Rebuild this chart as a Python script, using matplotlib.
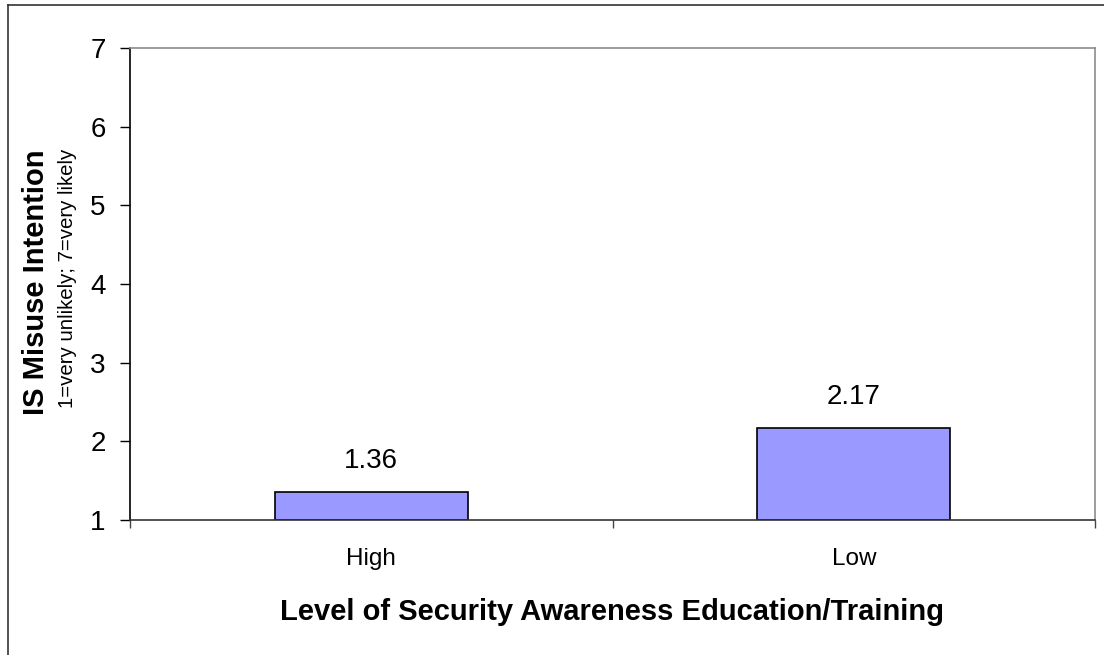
import matplotlib
matplotlib.use("Agg")
import matplotlib.pyplot as plt
from matplotlib.lines import Line2D

categories = ["High", "Low"]
values = [1.36, 2.17]
value_labels = ["1.36", "2.17"]
yticks = [1, 2, 3, 4, 5, 6, 7]

plt.rcParams['font.family'] = ['Liberation Sans', 'DejaVu Sans']

W, H = 1104, 655
fig = plt.figure(figsize=(W / 100, H / 100), dpi=100)
fig.patch.set_facecolor('white')

# figure frame (left and top edges visible)
fx = 8 / W
fy = 1 - 5 / H
fig.add_artist(Line2D([fx, fx], [0, fy], transform=fig.transFigure, color='#333333', lw=1.2))
fig.add_artist(Line2D([fx, 1], [fy, fy], transform=fig.transFigure, color='#333333', lw=1.2))

left, right, top, bottom = 130, 1095, 48, 520
ax = fig.add_axes([left / W, 1 - bottom / H, (right - left) / W, (bottom - top) / H])

x = list(range(len(categories)))
base = 1
bars = ax.bar(x, [v - base for v in values], bottom=base, width=0.4,
              color='#9999FF', edgecolor='black', linewidth=1.2)

for xi, v, lab in zip(x, values, value_labels):
    ax.annotate(lab, (xi, v), xytext=(0, 13), textcoords='offset points',
                ha='center', va='bottom', fontsize=20)

ax.set_xlim(-0.5, len(categories) - 0.5)
ax.set_ylim(1, 7)
ax.set_yticks(yticks)
ax.set_yticklabels([str(t) for t in yticks], fontsize=20)
ax.tick_params(axis='y', direction='out', length=7.5, width=1, pad=10, color='black')

ax.set_xticks([i - 0.5 for i in range(len(categories) + 1)])
ax.set_xticklabels([''] * (len(categories) + 1))
ax.tick_params(axis='x', which='major', direction='out', length=6, width=1, color='#444444')
ax.set_xticks(x, minor=True)
ax.set_xticklabels(categories, minor=True, fontsize=17.5)
ax.tick_params(axis='x', which='minor', length=0, pad=20)

ax.spines['left'].set_color('black')
ax.spines['left'].set_linewidth(1.2)
ax.spines['bottom'].set_color('#333333')
ax.spines['bottom'].set_linewidth(1.2)
for s in ['top', 'right']:
    ax.spines[s].set_color('#8c8c8c')
    ax.spines[s].set_linewidth(1.2)

fig.text(36 / W, 1 - 282 / H, "IS Misuse Intention", rotation=90, ha='center', va='center',
         fontsize=21, fontweight='bold')
fig.text(67.5 / W, 1 - 278 / H, "1=very unlikely; 7=very likely", rotation=90, ha='center',
         va='center', fontsize=14.7)
fig.text(612 / W, 1 - 620 / H, "Level of Security Awareness Education/Training", ha='center',
         va='baseline', fontsize=21, fontweight='bold')

fig.savefig('out.png', dpi=100)
